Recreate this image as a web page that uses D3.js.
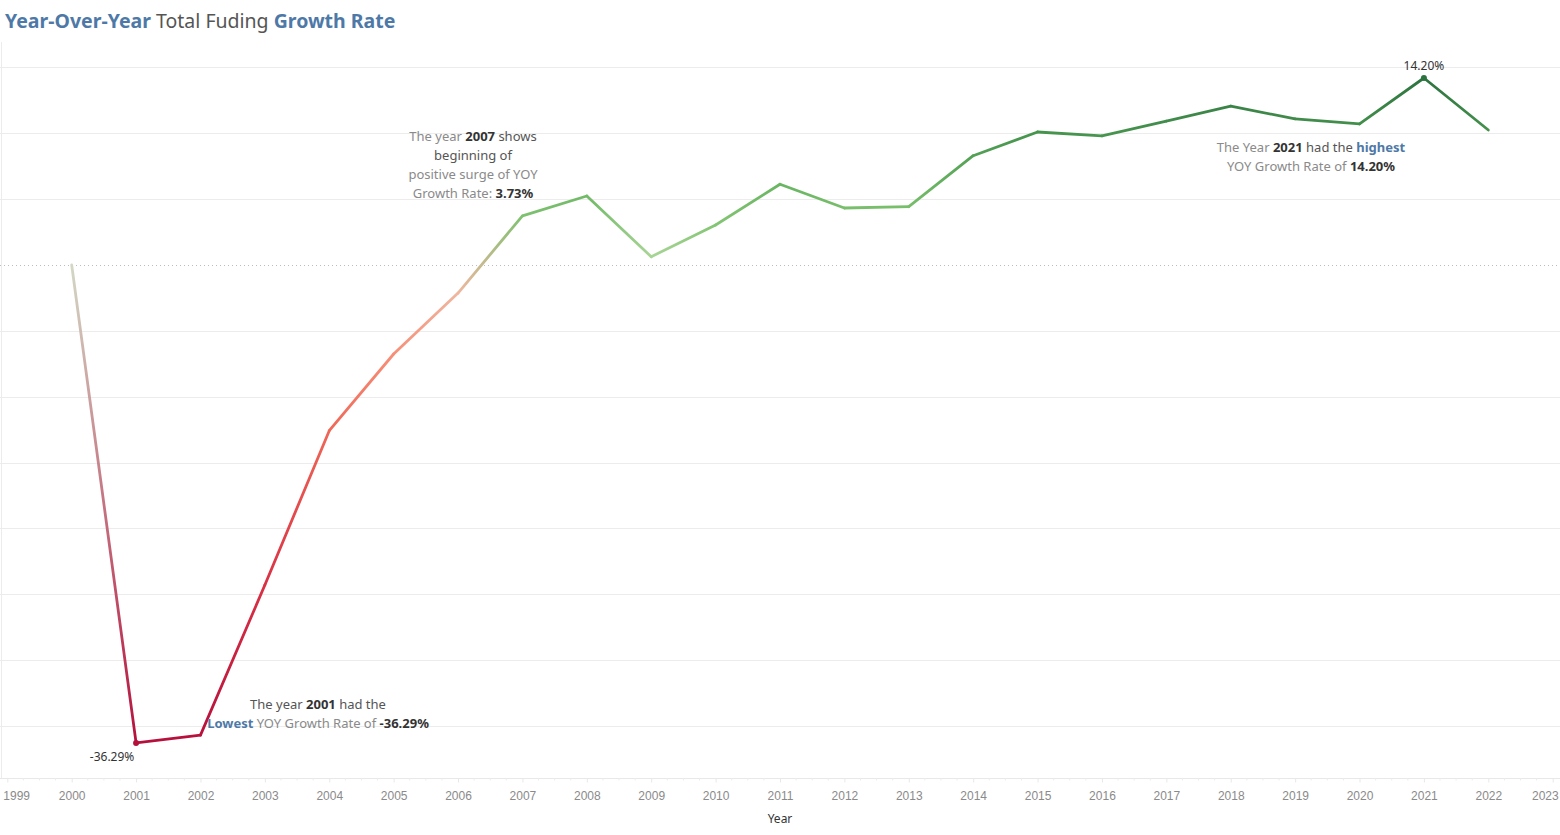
<!DOCTYPE html>
<html>
<head>
<meta charset="utf-8">
<script src="https://cdn.jsdelivr.net/npm/d3@7"></script>
<style>
  body { margin: 0; background: #fff; }
  svg { display: block; font-family: "Noto Sans", "Open Sans", sans-serif; }
  .grid line { stroke: #ececec; }
  .tick text { fill: #8a8a8a; font-size: 12px; }
</style>
</head>
<body>
<div id="chart"></div>
<script>
var years = [2000, 2001, 2002, 2003, 2004, 2005, 2006, 2007, 2008, 2009, 2010,
             2011, 2012, 2013, 2014, 2015, 2016, 2017, 2018, 2019, 2020, 2021, 2022];
var growth = [0, -36.29, -35.7, -24.3, -12.58, -6.76, -2.13, 3.73, 5.24, 0.63, 3.04,
              6.13, 4.33, 4.43, 8.30, 10.10, 9.80, 10.93, 12.07, 11.09, 10.71, 14.20, 10.25];
var gridValues = [15, 10, 5, -5, -10, -15, -20, -25, -30, -35];
var axisYears = d3.range(1999, 2024);

var width = 1560, height = 835;
var blue = "#4e79a7";

var x = d3.scaleLinear().domain([1999, 2023]).range([7.3, 1552.7]);
var y = d3.scaleLinear().domain([0, 14.2]).range([265, 78]);

// colour by value, red-green diverging
var colorStops = [-36.29, -30, -24, -12.5, -6.8, -2, 0, 0.6, 3, 6, 9, 14.2];
var colorRange = ["#b5103c", "#c81e40", "#da3244", "#ef6757", "#f78f78", "#efb7a0",
                  "#d3d8c6", "#a8d596", "#84c574", "#6ab662", "#4c9b51", "#2d7340"];
var color = d3.scaleLinear().domain(colorStops).range(colorRange);

var svg = d3.select("#chart").append("svg")
    .attr("width", width)
    .attr("height", height);

var defs = svg.append("defs");

// title
var title = svg.append("text")
    .attr("x", 5).attr("y", 28)
    .style("font-size", "19.5px");
title.append("tspan").text("Year-Over-Year").attr("fill", blue).attr("font-weight", "bold");
title.append("tspan").text(" Total Fuding ").attr("fill", "#555");
title.append("tspan").text("Growth Rate").attr("fill", blue).attr("font-weight", "bold");

// plot frame
svg.append("line")
    .attr("x1", 1.5).attr("x2", 1.5)
    .attr("y1", 42).attr("y2", 778)
    .attr("stroke", "#ececec");

svg.append("g").attr("class", "grid")
  .selectAll("line")
  .data(gridValues)
  .enter().append("line")
    .attr("x1", 0).attr("x2", width)
    .attr("y1", function(d) { return Math.round(y(d)) + 0.5; })
    .attr("y2", function(d) { return Math.round(y(d)) + 0.5; });

svg.append("line")
    .attr("x1", 0).attr("x2", width)
    .attr("y1", y(0) + 0.5).attr("y2", y(0) + 0.5)
    .attr("stroke", "#bdbdbd")
    .attr("stroke-dasharray", "1,3");

// x axis
var xAxis = d3.axisBottom(x)
    .tickValues(axisYears)
    .tickFormat(d3.format("d"))
    .tickSize(4)
    .tickPadding(9);
var gx = svg.append("g")
    .attr("transform", "translate(0,778.5)")
    .call(xAxis);
gx.select(".domain").attr("stroke", "#e8e8e8").attr("d", "M0,0H" + width);
gx.selectAll(".tick line").attr("stroke", "#e8e8e8");
gx.selectAll(".tick text")
    .filter(function(d) { return d === 1999; })
    .attr("text-anchor", "start").attr("x", -4.5);
gx.selectAll(".tick text")
    .filter(function(d) { return d === 2023; })
    .attr("text-anchor", "end").attr("x", 5.5);

// minor ticks every quarter year
gx.selectAll(".minor")
  .data(d3.range(1999, 2023.01, 0.25).filter(function(d) { return d % 1 !== 0; }))
  .enter().append("line")
    .attr("x1", function(d) { return x(d); })
    .attr("x2", function(d) { return x(d); })
    .attr("y1", 0).attr("y2", 2)
    .attr("stroke", "#ededed");

svg.append("text")
    .attr("x", x(2011)).attr("y", 823)
    .attr("text-anchor", "middle")
    .attr("fill", "#333")
    .style("font-size", "12px")
    .text("Year");

// line: each segment blends from its start colour to its end colour
var pts = years.map(function(d, i) { return [d, growth[i]]; });
var segs = d3.pairs(pts);

segs.forEach(function(s, i) {
  var g = defs.append("linearGradient")
      .attr("id", "seg" + i)
      .attr("gradientUnits", "userSpaceOnUse")
      .attr("x1", x(s[0][0])).attr("y1", y(s[0][1]))
      .attr("x2", x(s[1][0])).attr("y2", y(s[1][1]));
  g.append("stop").attr("offset", 0).attr("stop-color", color(s[0][1]));
  g.append("stop").attr("offset", 1).attr("stop-color", color(s[1][1]));
});

var line = d3.line()
    .x(function(d) { return x(d[0]); })
    .y(function(d) { return y(d[1]); });

svg.append("g").selectAll("path")
  .data(segs)
  .enter().append("path")
    .attr("d", line)
    .attr("fill", "none")
    .attr("stroke", function(d, i) { return "url(#seg" + i + ")"; })
    .attr("stroke-width", 2.8)
    .attr("stroke-linecap", "round");

// min and max marks
var iMin = growth.indexOf(d3.min(growth));
var iMax = growth.indexOf(d3.max(growth));
[iMin, iMax].forEach(function(i) {
  svg.append("circle")
      .attr("cx", x(years[i])).attr("cy", y(growth[i]))
      .attr("r", 3)
      .attr("fill", color(growth[i]));
});

svg.append("text")
    .attr("x", x(years[iMin]) - 24).attr("y", y(growth[iMin]) + 18)
    .attr("text-anchor", "middle").attr("fill", "#333")
    .style("font-size", "12px")
    .text(growth[iMin].toFixed(2) + "%");
svg.append("text")
    .attr("x", x(years[iMax])).attr("y", y(growth[iMax]) - 8)
    .attr("text-anchor", "middle").attr("fill", "#333")
    .style("font-size", "12px")
    .text(growth[iMax].toFixed(2) + "%");

// annotations: each line is a list of [text, colour, bold]
function note(cx, top, lines) {
  var t = svg.append("text")
      .attr("text-anchor", "middle")
      .style("font-size", "13px");
  lines.forEach(function(parts, li) {
    var row = t.append("tspan").attr("x", cx).attr("y", top + li * 19);
    parts.forEach(function(p) {
      row.append("tspan")
          .text(p[0])
          .attr("fill", p[1])
          .attr("font-weight", p[2] ? "bold" : null);
    });
  });
}

var dark = "#333", mid = "#555", light = "#8a8a8a";

note(318, 709, [
  [["The year ", mid], [String(years[iMin]), dark, true], [" had the", mid]],
  [["Lowest", blue, true], [" YOY Growth Rate of ", light], [growth[iMin].toFixed(2) + "%", dark, true]]
]);

var i2007 = years.indexOf(2007);
note(473, 141, [
  [["The year ", light], ["2007", dark, true], [" shows", mid]],
  [["beginning of", mid]],
  [["positive surge of YOY", light]],
  [["Growth Rate: ", light], [growth[i2007].toFixed(2) + "%", dark, true]]
]);

note(1311, 152, [
  [["The Year ", light], [String(years[iMax]), dark, true], [" had the ", mid], ["highest", blue, true]],
  [["YOY Growth Rate of ", light], [growth[iMax].toFixed(2) + "%", dark, true]]
]);
</script>
</body>
</html>
